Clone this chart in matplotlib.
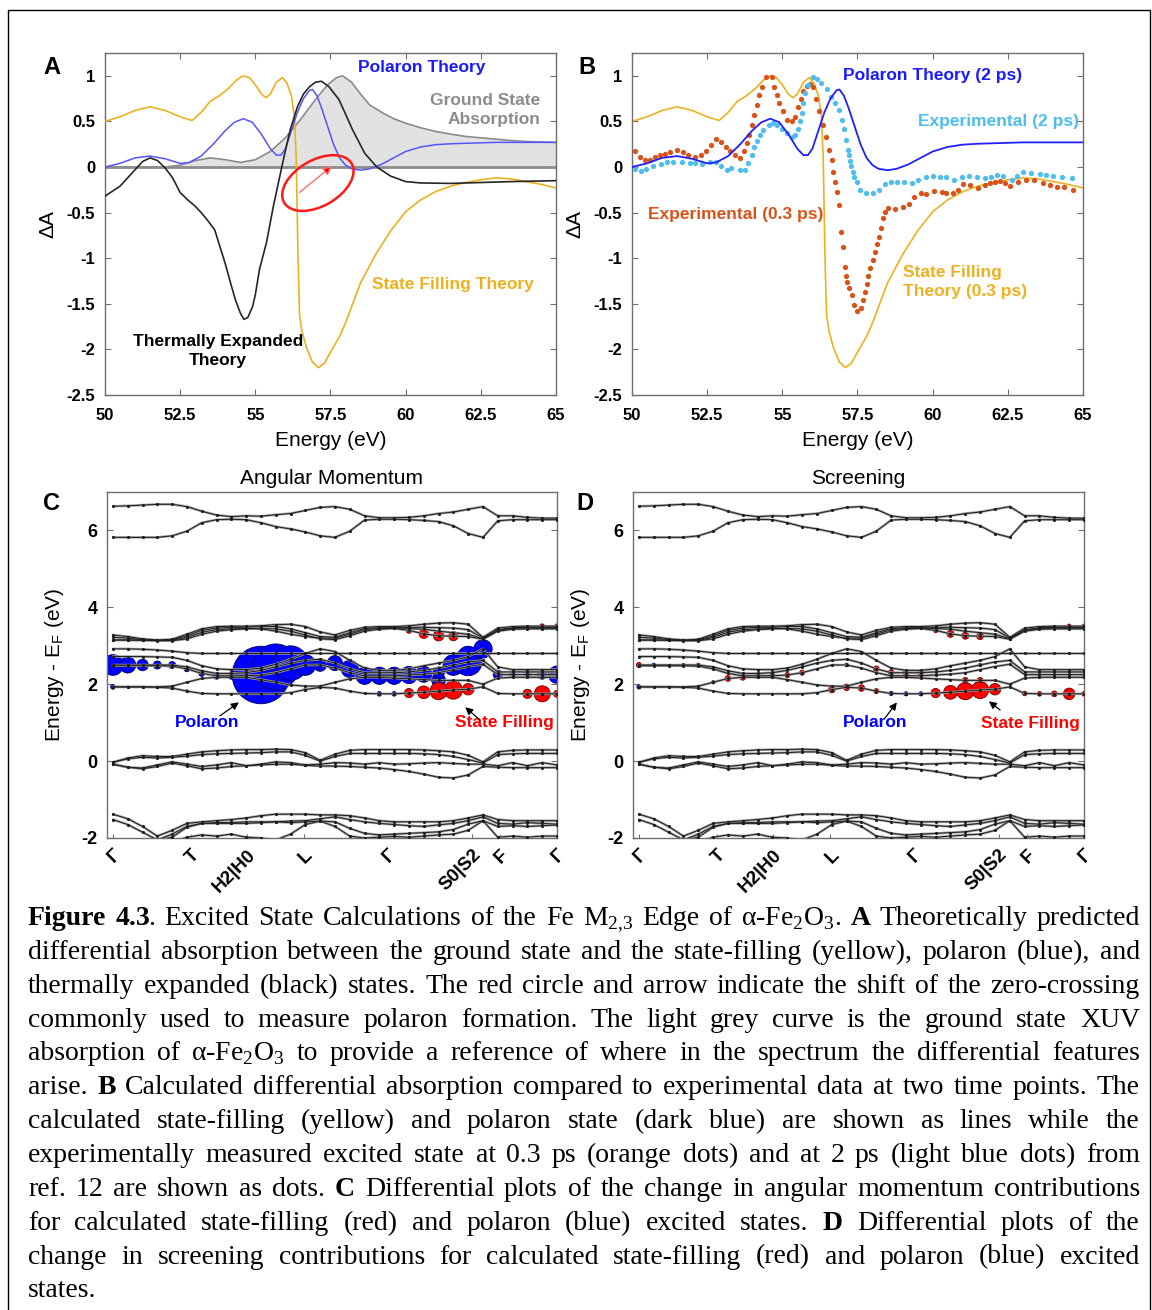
import matplotlib
matplotlib.use('Agg')
import matplotlib.pyplot as plt
from matplotlib.patches import Ellipse, Rectangle
from matplotlib.transforms import ScaledTranslation

plt.rcParams['font.family'] = ['Liberation Sans', 'DejaVu Sans']
plt.rcParams['font.weight'] = 'bold'

################################
## SPECTRA (panels A and B)   ##

sf_energy = [50.0, 50.5, 51.0, 51.5, 52.0, 52.5, 52.9, 53.2, 53.5, 53.8,
             54.1, 54.4, 54.6, 54.8, 55.0, 55.2, 55.35, 55.5, 55.7, 55.9,
             56.05, 56.2, 56.3, 56.36, 56.42, 56.47, 56.55, 56.7, 56.9, 57.1,
             57.3, 57.55, 57.8, 58.0, 58.5, 59.0, 59.5, 60.0, 60.5, 61.0,
             61.5, 62.0, 62.5, 63.0, 63.5, 64.0, 64.5, 65.0]
sf_theory = [0.50, 0.55, 0.62, 0.66, 0.62, 0.55, 0.51, 0.60, 0.72, 0.78,
             0.86, 0.96, 1.00, 0.98, 0.90, 0.80, 0.76, 0.80, 0.93, 0.98,
             0.92, 0.78, 0.55, 0.10, -1.00, -1.62, -1.80, -1.98, -2.14, -2.20,
             -2.15, -2.00, -1.86, -1.71, -1.27, -0.96, -0.70, -0.49, -0.36, -0.27,
             -0.21, -0.17, -0.14, -0.12, -0.13, -0.16, -0.19, -0.23]

pol_energy = [50.0, 50.5, 51.0, 51.5, 52.0, 52.5, 52.8, 53.2, 53.6, 54.0,
              54.3, 54.6, 54.9, 55.2, 55.5, 55.7, 55.85, 56.0, 56.2, 56.4,
              56.6, 56.8, 56.9, 57.05, 57.2, 57.4, 57.6, 57.8, 58.0, 58.2,
              58.5, 58.8, 59.2, 59.6, 60.0, 60.5, 61.0, 61.5, 62.0, 63.0,
              64.0, 65.0]
pol_theory = [0.00, 0.04, 0.10, 0.12, 0.09, 0.04, 0.05, 0.12, 0.25, 0.40,
              0.49, 0.53, 0.49, 0.36, 0.20, 0.13, 0.13, 0.20, 0.40, 0.60,
              0.75, 0.84, 0.85, 0.78, 0.65, 0.45, 0.25, 0.10, 0.02, -0.02,
              -0.035, -0.02, 0.03, 0.10, 0.17, 0.22, 0.245, 0.255, 0.26, 0.27,
              0.27, 0.27]

te_energy = [50.0, 50.5, 51.0, 51.25, 51.5, 51.75, 52.0, 52.25, 52.5, 52.75,
             53.0, 53.2, 53.4, 53.65, 53.8, 54.0, 54.2, 54.35, 54.5, 54.62,
             54.75, 54.91, 55.0, 55.14, 55.37, 55.6, 55.88, 56.0, 56.17, 56.4,
             56.6, 56.8, 57.0, 57.2, 57.45, 57.78, 58.0, 58.23, 58.64, 59.04,
             59.5, 60.0, 60.5, 61.5, 62.5, 63.5, 65.0]
te_theory = [-0.32, -0.21, -0.03, 0.06, 0.10, 0.07, -0.01, -0.12, -0.28, -0.36,
             -0.43, -0.50, -0.58, -0.69, -0.85, -1.06, -1.30, -1.47, -1.60, -1.67,
             -1.65, -1.53, -1.40, -1.12, -0.83, -0.43, 0.00, 0.18, 0.42, 0.66,
             0.80, 0.88, 0.93, 0.94, 0.88, 0.74, 0.58, 0.41, 0.15, 0.00,
             -0.10, -0.16, -0.175, -0.18, -0.17, -0.16, -0.15]

gs_energy = [50.0, 52.0, 52.5, 53.0, 53.5, 54.0, 54.5, 55.0, 55.5, 56.0,
             56.5, 57.0, 57.4, 57.7, 57.9, 58.2, 58.5, 58.8, 59.2, 59.6,
             60.0, 60.5, 61.0, 61.5, 62.0, 62.5, 63.0, 63.5, 64.0, 64.5,
             65.0]
gs_absorption = [0.00, 0.00, 0.02, 0.07, 0.10, 0.08, 0.05, 0.08, 0.17, 0.32,
                 0.52, 0.74, 0.90, 0.98, 1.00, 0.93, 0.80, 0.68, 0.60, 0.53,
                 0.48, 0.43, 0.39, 0.36, 0.335, 0.32, 0.305, 0.29, 0.28, 0.275,
                 0.27]

exp03_energy = [50.10, 50.27, 50.43, 50.60, 50.76, 50.93, 51.10, 51.26, 51.49, 51.69,
                51.87, 52.10, 52.28, 52.46, 52.63, 52.79, 52.95, 53.12, 53.26, 53.43,
                53.59, 53.74, 53.81, 53.90, 53.98, 54.06, 54.15, 54.23, 54.31, 54.46,
                54.65, 54.72, 54.81, 54.90, 55.01, 55.14, 55.31, 55.42, 55.53, 55.61,
                55.70, 55.81, 55.92, 56.01, 56.12, 56.22, 56.34, 56.45, 56.56, 56.64,
                56.70, 56.76, 56.82, 56.88, 56.94, 57.01, 57.08, 57.12, 57.16, 57.23,
                57.31, 57.39, 57.50, 57.60, 57.67, 57.75, 57.80, 57.86, 57.91, 58.00,
                58.08, 58.16, 58.22, 58.28, 58.34, 58.41, 58.53, 58.75, 59.00, 59.21,
                59.38, 59.61, 59.78, 60.04, 60.30, 60.46, 60.68, 60.85, 61.02, 61.24,
                61.50, 61.74, 61.90, 62.07, 62.24, 62.40, 62.57, 62.85, 63.10, 63.38,
                63.66, 63.90, 64.12, 64.38, 64.66]
exp03_da = [0.17, 0.11, 0.08, 0.08, 0.11, 0.13, 0.14, 0.16, 0.19, 0.16,
            0.13, 0.11, 0.13, 0.18, 0.24, 0.31, 0.27, 0.22, 0.17, 0.13,
            0.10, 0.18, 0.26, 0.35, 0.46, 0.57, 0.68, 0.79, 0.88, 0.99,
            0.99, 0.88, 0.79, 0.70, 0.61, 0.52, 0.50, 0.55, 0.66, 0.75,
            0.83, 0.89, 0.91, 0.88, 0.75, 0.61, 0.46, 0.33, 0.19, 0.08,
            -0.05, -0.16, -0.27, -0.42, -0.71, -0.88, -1.10, -1.19, -1.26, -1.33,
            -1.40, -1.51, -1.58, -1.55, -1.46, -1.37, -1.28, -1.20, -1.11, -1.02,
            -0.93, -0.84, -0.77, -0.67, -0.56, -0.49, -0.45, -0.46, -0.44, -0.41,
            -0.33, -0.28, -0.30, -0.26, -0.27, -0.29, -0.28, -0.25, -0.19, -0.20,
            -0.23, -0.20, -0.17, -0.16, -0.15, -0.18, -0.21, -0.16, -0.14, -0.14,
            -0.17, -0.20, -0.22, -0.22, -0.25]

exp2_energy = [50.10, 50.30, 50.48, 50.70, 50.95, 51.15, 51.35, 51.65, 51.93, 52.10,
               52.32, 52.59, 52.80, 52.97, 53.15, 53.30, 53.59, 53.76, 53.87, 53.98,
               54.06, 54.15, 54.26, 54.37, 54.54, 54.68, 54.81, 54.98, 55.14, 55.31,
               55.42, 55.53, 55.59, 55.64, 55.70, 55.75, 55.86, 56.01, 56.14, 56.30,
               56.47, 56.62, 56.76, 56.88, 56.98, 57.06, 57.12, 57.17, 57.21, 57.26,
               57.30, 57.35, 57.39, 57.47, 57.58, 57.78, 58.02, 58.22, 58.41, 58.60,
               58.80, 59.05, 59.30, 59.52, 59.78, 60.02, 60.24, 60.46, 60.72, 60.96,
               61.22, 61.46, 61.74, 61.93, 62.13, 62.35, 62.63, 62.82, 63.02, 63.26,
               63.57, 63.77, 64.01, 64.29, 64.62]
exp2_da = [-0.02, -0.04, -0.02, 0.01, 0.03, 0.05, 0.05, 0.06, 0.04, 0.04,
           0.03, 0.05, 0.05, 0.01, -0.03, -0.01, -0.03, -0.03, 0.04, 0.13,
           0.22, 0.28, 0.35, 0.41, 0.46, 0.48, 0.46, 0.42, 0.37, 0.33,
           0.35, 0.42, 0.50, 0.59, 0.70, 0.81, 0.90, 0.99, 0.96, 0.92,
           0.85, 0.77, 0.70, 0.63, 0.52, 0.42, 0.30, 0.19, 0.13, 0.07,
           0.01, -0.05, -0.11, -0.16, -0.25, -0.28, -0.28, -0.25, -0.19, -0.16,
           -0.16, -0.16, -0.18, -0.14, -0.11, -0.10, -0.11, -0.11, -0.14, -0.11,
           -0.10, -0.11, -0.12, -0.11, -0.09, -0.10, -0.14, -0.10, -0.06, -0.07,
           -0.08, -0.09, -0.10, -0.11, -0.12]

e_ticks = [50, 52.5, 55, 57.5, 60, 62.5, 65]
e_tick_labels = ['50', '52.5', '55', '57.5', '60', '62.5', '65']
da_ticks = [1, 0.5, 0, -0.5, -1, -1.5, -2, -2.5]
da_tick_labels = ['1', '0.5', '0', '-0.5', '-1', '-1.5', '-2', '-2.5']

################################
## BANDS (panels C and D)     ##

top_hi = [6.63, 6.64, 6.66, 6.68, 6.68, 6.62, 6.50, 6.40, 6.36, 6.38, 6.37, 6.41, 6.44, 6.52, 6.60, 6.62,
          6.55, 6.38, 6.33, 6.33, 6.34, 6.38, 6.44, 6.48, 6.55, 6.62, 6.38, 6.38, 6.34, 6.32, 6.32]
top_lo = [5.82, 5.82, 5.82, 5.82, 5.86, 5.98, 6.20, 6.28, 6.29, 6.28, 6.20, 6.10, 6.04, 5.96, 5.86, 5.82,
          5.98, 6.27, 6.29, 6.29, 6.28, 6.26, 6.23, 6.12, 5.92, 5.82, 6.25, 6.28, 6.28, 6.28, 6.28]
um1 = [3.28, 3.24, 3.18, 3.15, 3.17, 3.30, 3.44, 3.50, 3.51, 3.51, 3.52, 3.55, 3.56, 3.50, 3.36, 3.28,
       3.40, 3.48, 3.50, 3.50, 3.52, 3.56, 3.59, 3.60, 3.56, 3.22, 3.46, 3.50, 3.51, 3.51, 3.51]
um2 = [3.22, 3.20, 3.16, 3.14, 3.15, 3.26, 3.40, 3.46, 3.48, 3.48, 3.50, 3.50, 3.44, 3.34, 3.24, 3.22,
       3.34, 3.45, 3.47, 3.48, 3.48, 3.48, 3.47, 3.46, 3.42, 3.20, 3.42, 3.47, 3.48, 3.48, 3.48]
um3 = [3.15, 3.15, 3.15, 3.14, 3.14, 3.22, 3.35, 3.42, 3.44, 3.45, 3.44, 3.38, 3.30, 3.24, 3.20, 3.20,
       3.30, 3.42, 3.45, 3.46, 3.45, 3.43, 3.38, 3.34, 3.30, 3.18, 3.40, 3.45, 3.46, 3.46, 3.46]
um4 = [3.15, 3.15, 3.14, 3.13, 3.13, 3.18, 3.30, 3.38, 3.42, 3.44, 3.45, 3.44, 3.38, 3.28, 3.18, 3.16,
       3.26, 3.38, 3.43, 3.45, 3.40, 3.31, 3.26, 3.25, 3.24, 3.17, 3.38, 3.43, 3.44, 3.44, 3.44]
m1 = [2.92, 2.92, 2.91, 2.89, 2.86, 2.82, 2.80, 2.80, 2.80, 2.80, 2.80, 2.80, 2.80, 2.80, 2.80, 2.80,
      2.80, 2.80, 2.80, 2.80, 2.80, 2.80, 2.80, 2.80, 2.80, 2.80, 2.80, 2.80, 2.80, 2.80, 2.80]
m2 = [2.72, 2.72, 2.72, 2.71, 2.70, 2.62, 2.48, 2.40, 2.38, 2.38, 2.42, 2.52, 2.65, 2.80, 2.92, 2.85,
      2.62, 2.42, 2.36, 2.36, 2.40, 2.48, 2.55, 2.62, 2.72, 2.92, 2.45, 2.38, 2.38, 2.38, 2.38]
m3 = [2.50, 2.50, 2.50, 2.50, 2.50, 2.45, 2.35, 2.28, 2.28, 2.30, 2.36, 2.45, 2.55, 2.62, 2.65, 2.55,
      2.40, 2.30, 2.30, 2.30, 2.32, 2.36, 2.42, 2.50, 2.58, 2.62, 2.32, 2.32, 2.32, 2.32, 2.32]
m4 = [2.48, 2.48, 2.48, 2.48, 2.47, 2.40, 2.28, 2.22, 2.22, 2.22, 2.24, 2.30, 2.40, 2.50, 2.50, 2.42,
      2.30, 2.22, 2.22, 2.22, 2.24, 2.26, 2.30, 2.38, 2.46, 2.52, 2.25, 2.25, 2.25, 2.25, 2.25]
m5 = [1.93, 1.93, 1.93, 1.93, 1.95, 2.05, 2.15, 2.18, 2.18, 2.18, 2.12, 2.05, 1.98, 1.95, 1.95, 2.05,
      2.14, 2.18, 2.18, 2.16, 2.14, 2.12, 2.10, 2.10, 2.10, 2.00, 2.16, 2.18, 2.18, 2.18, 2.18]
m6 = [1.93, 1.93, 1.93, 1.92, 1.90, 1.82, 1.76, 1.75, 1.75, 1.75, 1.75, 1.75, 1.78, 1.86, 1.92, 1.90,
      1.82, 1.76, 1.75, 1.75, 1.77, 1.79, 1.82, 1.85, 1.87, 1.93, 1.76, 1.75, 1.75, 1.75, 1.75]
v1 = [-0.03, 0.08, 0.14, 0.12, 0.12, 0.18, 0.24, 0.27, 0.29, 0.30, 0.30, 0.31, 0.30, 0.22, 0.02, 0.18,
      0.28, 0.30, 0.30, 0.30, 0.30, 0.29, 0.27, 0.24, 0.15, -0.02, 0.24, 0.28, 0.29, 0.29, 0.29]
v2 = [-0.03, 0.06, 0.10, 0.08, 0.10, 0.13, 0.17, 0.19, 0.20, 0.21, 0.22, 0.24, 0.24, 0.15, 0.00, 0.12,
      0.20, 0.20, 0.20, 0.20, 0.20, 0.19, 0.17, 0.12, 0.04, -0.05, 0.17, 0.19, 0.20, 0.20, 0.20]
v3 = [-0.08, -0.16, -0.18, -0.10, -0.02, -0.08, -0.14, -0.10, -0.04, -0.12, -0.08, -0.02, -0.04, -0.10,
      -0.08, -0.04, -0.05, -0.08, -0.04, -0.08, -0.07, -0.05, -0.04, -0.06, -0.08, -0.08, -0.12, -0.04,
      -0.12, -0.04, -0.10]
v4 = [-0.08, -0.16, -0.20, -0.14, -0.05, -0.12, -0.20, -0.18, -0.14, -0.12, -0.10, -0.08, -0.08, -0.11,
      -0.13, -0.13, -0.14, -0.16, -0.18, -0.22, -0.27, -0.34, -0.42, -0.44, -0.36, -0.14, -0.16, -0.17,
      -0.17, -0.17, -0.17]
l1 = [-1.38, -1.50, -1.70, -1.95, -1.80, -1.62, -1.58, -1.55, -1.52, -1.48, -1.42, -1.38, -1.38, -1.38,
      -1.40, -1.40, -1.42, -1.48, -1.55, -1.58, -1.58, -1.58, -1.58, -1.55, -1.48, -1.40, -1.52, -1.55,
      -1.55, -1.55, -1.55]
l2 = [-1.52, -1.65, -1.85, -2.05, -1.90, -1.70, -1.62, -1.60, -1.60, -1.58, -1.58, -1.58, -1.56, -1.55,
      -1.50, -1.45, -1.52, -1.58, -1.62, -1.65, -1.68, -1.70, -1.66, -1.62, -1.55, -1.45, -1.62, -1.64,
      -1.60, -1.62, -1.64]
l3 = [-2.10, -2.10, -2.10, -2.05, -1.98, -1.72, -1.62, -1.62, -1.62, -1.62, -1.60, -1.58, -1.60, -1.58,
      -1.56, -1.58, -1.75, -1.88, -1.92, -1.90, -1.88, -1.86, -1.84, -1.78, -1.64, -1.55, -1.70, -1.68,
      -1.70, -1.68, -1.66]
l4 = [-2.10, -2.10, -2.10, -2.10, -2.10, -1.98, -1.92, -1.95, -1.90, -1.98, -2.00, -2.05, -1.90, -1.65,
      -1.56, -1.70, -1.95, -2.00, -1.98, -1.96, -1.98, -1.95, -1.92, -1.90, -1.80, -1.55, -1.98, -1.95,
      -1.98, -1.95, -1.95]

bands = {'top_hi': top_hi, 'top_lo': top_lo, 'um1': um1, 'um2': um2, 'um3': um3, 'um4': um4,
         'm1': m1, 'm2': m2, 'm3': m3, 'm4': m4, 'm5': m5, 'm6': m6,
         'v1': v1, 'v2': v2, 'v3': v3, 'v4': v4, 'l1': l1, 'l2': l2, 'l3': l3, 'l4': l4}
k_index = list(range(len(top_hi)))

kpath_ticks = [0, 5.27, 9.06, 12.91, 18.52, 24.26, 26.15, 30]
kpath_labels = ['Γ', 'T', 'H2|H0', 'L', 'Γ', 'S0|S2', 'F', 'Γ']

# (band, k index, weight) -- weight sets the circle radius
ang_polaron = [('m3', 0, 9), ('m3', 1, 7), ('m3', 2, 5), ('m3', 3, 3.5), ('m3', 4, 3),
               ('m4', 5, 2.5), ('m4', 6, 2.5), ('m4', 7, 3), ('m4', 8, 3),
               ('m4', 10, 25), ('m3', 11, 20), ('m3', 12, 15), ('m4', 13, 9),
               ('m4', 14, 5.5), ('m3', 15, 6.5), ('m3', 16, 7.5),
               ('m4', 17, 7.5), ('m4', 18, 7.5), ('m4', 19, 7.5), ('m4', 20, 7.5), ('m4', 21, 7),
               ('m4', 22, 5), ('m5', 22, 6), ('m3', 23, 9), ('m3', 24, 12), ('m2', 24, 9),
               ('m2', 25, 8), ('m4', 26, 4), ('m4', 27, 2.5), ('m4', 28, 3), ('m4', 29, 4),
               ('m4', 30, 7.5), ('m6', 0, 2), ('m6', 4, 1.5), ('m6', 18, 2), ('m6', 19, 2)]
ang_filling = [('um4', 20, 2.5), ('um4', 21, 4), ('um4', 22, 4.5), ('um4', 23, 4),
               ('m6', 20, 4), ('m6', 21, 5.5), ('m6', 22, 7.5), ('m6', 23, 8), ('m6', 24, 5),
               ('m6', 28, 4), ('m6', 29, 7), ('m6', 30, 3), ('um1', 29, 2), ('um1', 30, 2),
               ('m6', 13, 1.5), ('m6', 14, 1.5), ('m6', 5, 1.2), ('m4', 11, 1.5)]
scr_polaron = [('m3', 1, 1.6), ('m6', 0, 1.8), ('m3', 3, 1.4), ('m5', 5, 1.4), ('m4', 14, 1.6),
               ('m6', 17, 1.8), ('m6', 18, 1.8), ('m6', 19, 1.8), ('m3', 23, 1.4)]
scr_filling = [('m3', 0, 2.2), ('m3', 4, 1.6), ('m5', 6, 2.5), ('m5', 7, 2.5),
               ('m4', 8, 2.2), ('m4', 9, 2.2), ('m4', 10, 2.2), ('m4', 11, 2.2),
               ('m6', 13, 2.8), ('m6', 14, 2.8), ('m6', 15, 2.8), ('m6', 16, 2.2),
               ('m3', 16, 2.5), ('m3', 17, 2.5), ('m3', 18, 2.5), ('m3', 19, 2.5),
               ('m5', 22, 2.5), ('m5', 23, 2.5),
               ('um4', 20, 2), ('um4', 21, 3), ('um4', 22, 3), ('um4', 23, 3),
               ('m6', 20, 4), ('m6', 21, 6), ('m6', 22, 7.5), ('m6', 23, 7.5), ('m6', 24, 5),
               ('m6', 26, 2), ('m6', 27, 2), ('m6', 28, 2.5), ('m6', 29, 5), ('m6', 30, 2),
               ('um1', 29, 1.8), ('um1', 30, 1.8)]

################################
## CAPTION                    ##

caption_lines = [
    "**Figure 4.3**. Excited State Calculations of the Fe M$_\\mathregular{2{,}3}$ Edge of "
    "α-Fe$_\\mathregular{2}$O$_\\mathregular{3}$. **A** Theoretically predicted",
    "differential absorption between the ground state and the state-filling (yellow), polaron (blue), and",
    "thermally expanded (black) states. The red circle and arrow indicate the shift of the zero-crossing",
    "commonly used to measure polaron formation. The light grey curve is the ground state XUV",
    "absorption of α-Fe$_\\mathregular{2}$O$_\\mathregular{3}$ to provide a reference of where in "
    "the spectrum the differential features",
    "arise. **B** Calculated differential absorption compared to experimental data at two time points. The",
    "calculated state-filling (yellow) and polaron state (dark blue) are shown as lines while the",
    "experimentally measured excited state at 0.3 ps (orange dots) and at 2 ps (light blue dots) from",
    "ref. 12 are shown as dots. **C** Differential plots of the change in angular momentum contributions",
    "for calculated state-filling (red) and polaron (blue) excited states. **D** Differential plots of the",
    "change in screening contributions for calculated state-filling (red) and polaron (blue) excited",
    "states.",
]

################################
## SETUP                      ##

W, H = 1152, 1310
fig = plt.figure(figsize=(W / 100, H / 100), dpi=100)
fig.patch.set_facecolor('white')

YELLOW = '#EDB120'
ORANGE = '#D95319'
LBLUE = '#4DBEEE'
FRAME = '#6e6e6e'
CIRCLE_SCALE = 1.15


def axes_px(left, top, right, bottom):
    return fig.add_axes([left / W, 1 - bottom / H, (right - left) / W, (bottom - top) / H])


def style_frame(ax):
    for s in ax.spines.values():
        s.set_color(FRAME)
        s.set_linewidth(1.0)


def style_spectrum(ax):
    ax.set_xlim(50, 65)
    ax.set_ylim(-2.5, 1.25)
    ax.set_xticks(e_ticks)
    ax.set_xticklabels(e_tick_labels)
    ax.set_yticks(da_ticks)
    ax.set_yticklabels(da_tick_labels)
    ax.tick_params(direction='in', top=True, right=True, length=4, width=0.8,
                   color=FRAME, labelsize=12)
    ax.tick_params(axis='x', pad=9)
    ax.tick_params(axis='y', pad=7)
    style_frame(ax)
    ax.set_xlabel('Energy (eV)', fontsize=15, fontweight='normal')
    ax.xaxis.set_label_coords(0.5, -0.105)
    ax.set_ylabel('ΔA', fontsize=15)
    ax.yaxis.set_label_coords(-0.105, 0.5)


ax_a = axes_px(105, 53, 556, 395)
ax_b = axes_px(632, 53, 1083, 395)
ax_c = axes_px(107, 492, 557, 838)
ax_d = axes_px(633, 492, 1084, 838)

################################
## PANEL A                    ##

style_spectrum(ax_a)
ax_a.fill_between(gs_energy, 0, gs_absorption, color='#e2e2e2', lw=0, zorder=1)
ax_a.plot(gs_energy, gs_absorption, color='#8a8a8a', lw=1.2, zorder=2)
ax_a.axhline(0, color='#8c8c8c', lw=2.0, zorder=2)
ax_a.plot(sf_energy, sf_theory, color=YELLOW, lw=1.2, zorder=3)
ax_a.plot(pol_energy, pol_theory, color='#5555ff', lw=1.1, zorder=4)
ax_a.plot(te_energy, te_theory, color='#262626', lw=1.2, zorder=5)

ring = Ellipse((0, 0), width=0.78, height=0.46, angle=30, fill=False, ec='#ff1a1a', lw=1.8,
               transform=fig.dpi_scale_trans + ScaledTranslation(57.08, -0.176, ax_a.transData),
               zorder=6)
ax_a.add_patch(ring)
ax_a.annotate('', xy=(57.55, 0.01), xytext=(56.46, -0.28),
              arrowprops=dict(arrowstyle='-|>', fc='#ff0000', ec='#ff7070', lw=1.0,
                              mutation_scale=13, shrinkA=0, shrinkB=0), zorder=6)

ax_a.text(60.54, 1.088, 'Polaron Theory', color='#1a1aff', fontsize=12.5, ha='center', va='center')
ax_a.text(64.47, 0.626, 'Ground State\nAbsorption', color='#8c8c8c', fontsize=12.5,
          ha='right', va='center', multialignment='right', linespacing=1.3)
ax_a.text(61.57, -1.286, 'State Filling Theory', color=YELLOW, fontsize=12.5, ha='center', va='center')
ax_a.text(53.76, -2.02, 'Thermally Expanded\nTheory', color='black', fontsize=12.5,
          ha='center', va='center', multialignment='center', linespacing=1.3)

################################
## PANEL B                    ##

style_spectrum(ax_b)
ax_b.plot(sf_energy, sf_theory, color=YELLOW, lw=1.2, zorder=2)
ax_b.plot(exp03_energy, exp03_da, ls='none', marker='o', ms=3.8, color=ORANGE, mec='none', zorder=3)
ax_b.plot(exp2_energy, exp2_da, ls='none', marker='o', ms=3.8, color=LBLUE, mec='none', zorder=3)
ax_b.plot(pol_energy, pol_theory, color='#1f1fff', lw=1.3, zorder=4)

ax_b.text(57.02, 1.0, 'Polaron Theory (2 ps)', color='#1a1aff', fontsize=12.5, ha='left', va='center')
ax_b.text(59.51, 0.495, 'Experimental (2 ps)', color=LBLUE, fontsize=12.5, ha='left', va='center')
ax_b.text(50.53, -0.516, 'Experimental (0.3 ps)', color=ORANGE, fontsize=12.5, ha='left', va='center')
ax_b.text(59.01, -1.264, 'State Filling\nTheory (0.3 ps)', color=YELLOW, fontsize=12.5,
          ha='left', va='center', multialignment='left', linespacing=1.3)

################################
## PANELS C AND D             ##


def draw_weights(ax, entries, face, edge):
    entries = sorted(entries, key=lambda e: -e[2])
    ks = [k for _, k, _ in entries]
    es = [bands[b][k] for b, k, _ in entries]
    sizes = [(2 * w * CIRCLE_SCALE * 0.72) ** 2 for _, _, w in entries]
    ax.scatter(ks, es, s=sizes, c=face, edgecolors=edge, linewidths=0.6, zorder=2)


def draw_bands(ax, title, polaron, filling, pol_arrow, fill_arrow, pol_text, fill_text):
    ax.set_xlim(-0.4, 30)
    ax.set_ylim(-2, 7)
    draw_weights(ax, polaron, '#0000ff', '#00005a')
    draw_weights(ax, filling, '#ff0000', '#700000')
    for vals in bands.values():
        ax.plot(k_index, vals, color='#a0a0a0', lw=1.8, zorder=3, solid_capstyle='round')
        ax.plot(k_index, vals, color='#1e1e1e', lw=0.7, zorder=4, marker='.', ms=2.5)
    ax.set_yticks([-2, 0, 2, 4, 6])
    ax.set_yticklabels(['-2', '0', '2', '4', '6'])
    ax.set_xticks(kpath_ticks)
    ax.set_xticklabels(kpath_labels, rotation=45, ha='right', va='top', rotation_mode='anchor')
    ax.tick_params(axis='y', direction='in', right=True, length=4, width=0.8, color=FRAME,
                   labelsize=13, pad=7)
    ax.tick_params(axis='x', direction='in', length=3, width=0.8, color=FRAME, labelsize=13.5, pad=6)
    style_frame(ax)
    ax.set_title(title, fontsize=15, fontweight='normal', pad=6)
    ax.set_ylabel('Energy - E$_\\mathregular{F}$ (eV)', fontsize=15, fontweight='normal')
    ax.yaxis.set_label_coords(-0.09, 0.5)
    arrow = dict(arrowstyle='-|>', color='black', lw=0.9, mutation_scale=11, shrinkA=0, shrinkB=0)
    ax.annotate('', xy=pol_arrow[1], xytext=pol_arrow[0], xycoords='axes fraction', arrowprops=arrow,
                zorder=6)
    ax.annotate('', xy=fill_arrow[1], xytext=fill_arrow[0], xycoords='axes fraction', arrowprops=arrow,
                zorder=6)
    ax.text(pol_text[0], pol_text[1], 'Polaron', color='#0000ff', fontsize=12.5,
            ha='center', va='center', transform=ax.transAxes)
    ax.text(fill_text[0], fill_text[1], 'State Filling', color='#ff0000', fontsize=12.5,
            ha='center', va='center', transform=ax.transAxes)


draw_bands(ax_c, 'Angular Momentum', ang_polaron, ang_filling,
           ((0.251, 0.353), (0.293, 0.392)), ((0.829, 0.341), (0.796, 0.378)),
           (0.222, 0.335), (0.884, 0.335))
draw_bands(ax_d, 'Screening', scr_polaron, scr_filling,
           ((0.559, 0.347), (0.585, 0.392)), ((0.814, 0.370), (0.789, 0.395)),
           (0.537, 0.335), (0.882, 0.332))

# panel letters
for letter, x, y in [('A', 52, 68), ('B', 587, 68), ('C', 52, 503), ('D', 585, 503)]:
    fig.text(x / W, 1 - y / H, letter, fontsize=17, ha='center', va='center')

# outer frame
fig.add_artist(Rectangle((8 / W, -0.01), 1142 / W, 1.01 - 10 / H, transform=fig.transFigure,
                         fill=False, ec='black', lw=1.0))

################################
## CAPTION (justified)        ##


def parse_words(line):
    words = []
    bold = False
    new_word = True
    for n, chunk in enumerate(line.split('**')):
        if n > 0:
            bold = not bold
        for j, part in enumerate(chunk.split(' ')):
            if j > 0:
                new_word = True
            if part == '':
                continue
            if new_word or not words:
                words.append([(part, bold)])
            else:
                words[-1].append((part, bold))
            new_word = False
    return words


fig.canvas.draw()
renderer = fig.canvas.get_renderer()
cap_left, cap_right = 28, 1140
cap_base, cap_step = 925, 33.85
for li, line in enumerate(caption_lines):
    y = 1 - (cap_base + li * cap_step) / H
    placed = []
    for word in parse_words(line):
        pieces = []
        for text, bold in word:
            t = fig.text(0, y, text, fontsize=20, family=['Liberation Serif', 'DejaVu Serif'],
                         fontweight='bold' if bold else 'normal', va='baseline', ha='left')
            pieces.append((t, t.get_window_extent(renderer).width))
        placed.append(pieces)
    # pieces of one word are butted together, dropping the bbox padding between them
    widths = [sum(w for _, w in p) - 2 * (len(p) - 1) for p in placed]
    if li == len(caption_lines) - 1 or len(placed) < 2:
        gap = 7
    else:
        gap = (cap_right - cap_left - sum(widths)) / (len(placed) - 1)
    x = cap_left
    for pieces in placed:
        for t, w in pieces:
            t.set_x(x / W)
            x += w - 2
        x += gap + 2

fig.savefig('out.png', dpi=100, facecolor='white')
